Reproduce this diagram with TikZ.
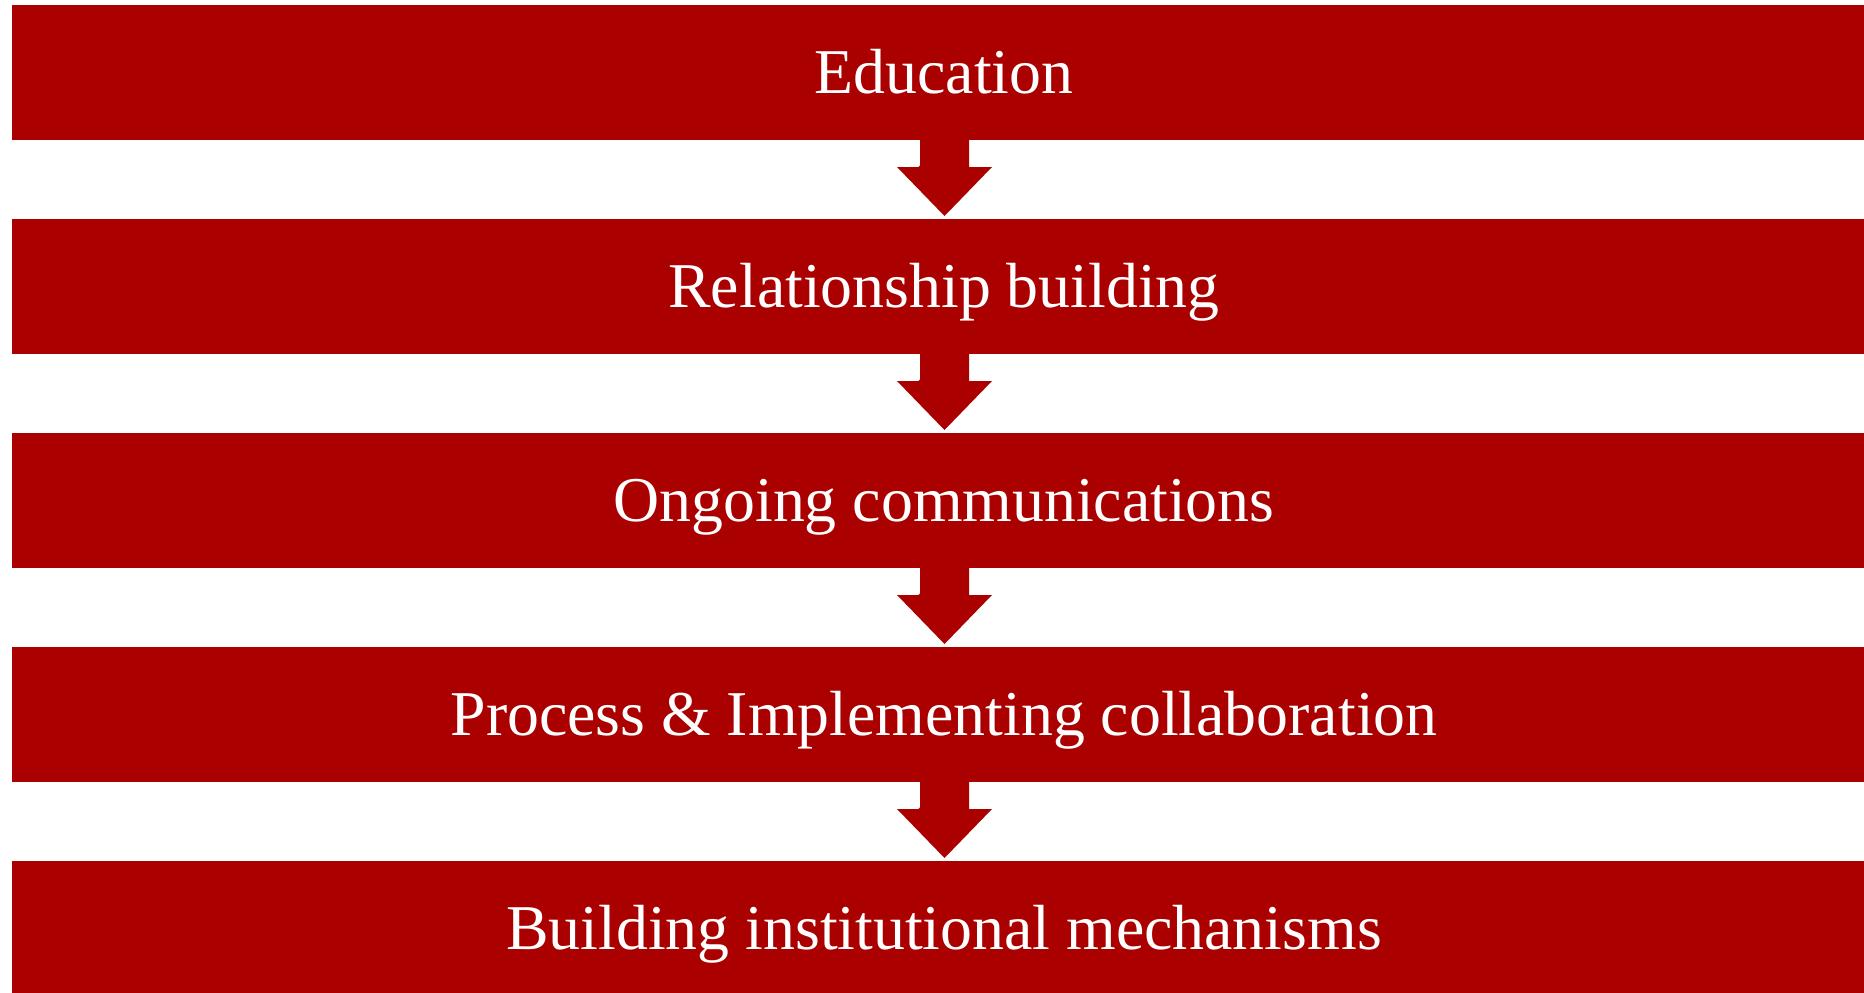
\documentclass[tikz,border=0pt]{standalone}
\usepackage{fontspec}
\setmainfont{Liberation Serif}
\definecolor{boxred}{HTML}{AA0000}
\begin{document}
\begin{tikzpicture}[x=1pt,y=-1pt,
  band/.style={fill=boxred,draw=none},
  lbl/.style={text=white,font=\fontsize{63.8}{70}\selectfont,anchor=base,inner sep=0pt},
  arr/.style={fill=boxred,draw=none}]
\useasboundingbox (0,0) rectangle (1864,993);
\foreach \i/\t in {0/Education,1/Relationship building,2/Ongoing communications,3/Process \& Implementing collaboration,4/Building institutional mechanisms}{
  \pgfmathsetmacro{\top}{5+214*\i}
  \fill[band] (12,\top) rectangle (1864,\top+135);
  \node[lbl] (t\i) at (944,\top+88) {\t};
}
\foreach \i in {0,1,2,3}{
  \pgfmathsetmacro{\b}{140+214*\i}
  \fill[arr] (920,\b) -- (920,\b+24) [rounded corners=2pt] -- (920,\b+27) [sharp corners] -- (897,\b+27) -- (944.5,\b+76) -- (992,\b+27) -- (969,\b+27) [rounded corners=2pt] -- (969,\b+24) [sharp corners]-- (969,\b) -- cycle;
}
\end{tikzpicture}
\end{document}
